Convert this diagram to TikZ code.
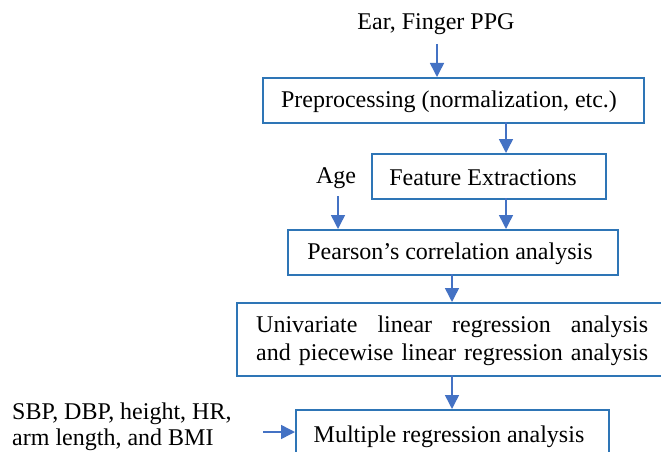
\documentclass[tikz,border=0pt]{standalone}
\usepackage{fontspec}
\setmainfont{Liberation Serif}
\usetikzlibrary{arrows.meta}
\definecolor{boxblue}{HTML}{2E75B6}
\definecolor{arrblue}{HTML}{4472C4}
\begin{document}
\begin{tikzpicture}[x=1pt,y=-1pt,
  font=\fontsize{24}{28}\selectfont,
  boxnode/.style={draw=boxblue, line width=2pt, inner sep=0pt, anchor=north west},
  txt/.style={inner sep=0pt, text=black},
  arr/.style={draw=arrblue, line width=1.5pt, -{Triangle[length=14pt,width=14pt]}}]
\clip (0,0) rectangle (661,452);
\fill[white] (0,0) rectangle (661,452);
% boxes
\node[boxnode, minimum width=381pt, minimum height=45pt] (pre) at (262,77) {};
\node[boxnode, minimum width=234pt, minimum height=45pt] (fea) at (371,153) {};
\node[boxnode, minimum width=330pt, minimum height=45pt] (pea) at (287,229) {};
\node[boxnode, minimum width=460pt, minimum height=73pt] (uni) at (236,302) {};
\node[boxnode, minimum width=313pt, minimum height=70pt] (mul) at (295,409) {};
% texts
\node[txt] (ppg) at (436,24) {Ear, Finger PPG};
\node[txt] (pretext) at (449,102) {Preprocessing (normalization, etc.)};
\node[txt] (featext) at (483,178) {Feature Extractions};
\node[txt] (peatext) at (450,254) {Pearson’s correlation analysis};
\node[txt] (age) at (336,178) {Age};
\node[txt, anchor=west, align=left] (unitext) at (256,341) {\makebox[392pt][s]{Univariate linear regression analysis}\\[-0.5pt]\makebox[392pt][s]{and piecewise linear regression analysis}};
\node[txt] (multext) at (449,437) {Multiple regression analysis};
\node[txt, anchor=west, align=left] (sbp) at (12,427) {SBP, DBP, height, HR,\\[-1.5pt]arm length, and BMI};
% connectors
\coordinate (ppgend) at (437,44);
\coordinate (ageend) at (338,196);
\coordinate (sbpend) at (263,432);
\draw[arr] (ppgend) -- (ppgend |- pre.north);
\draw[arr] (506,122) -- (506,153);
\draw[arr] (506,198) -- (506,229);
\draw[arr] (ageend) -- (ageend |- pea.north);
\draw[arr] (452,274) -- (452,302);
\draw[arr] (452,375) -- (452,409);
\draw[arr] (sbpend) -- (mul.west |- sbpend);
\end{tikzpicture}
\end{document}
